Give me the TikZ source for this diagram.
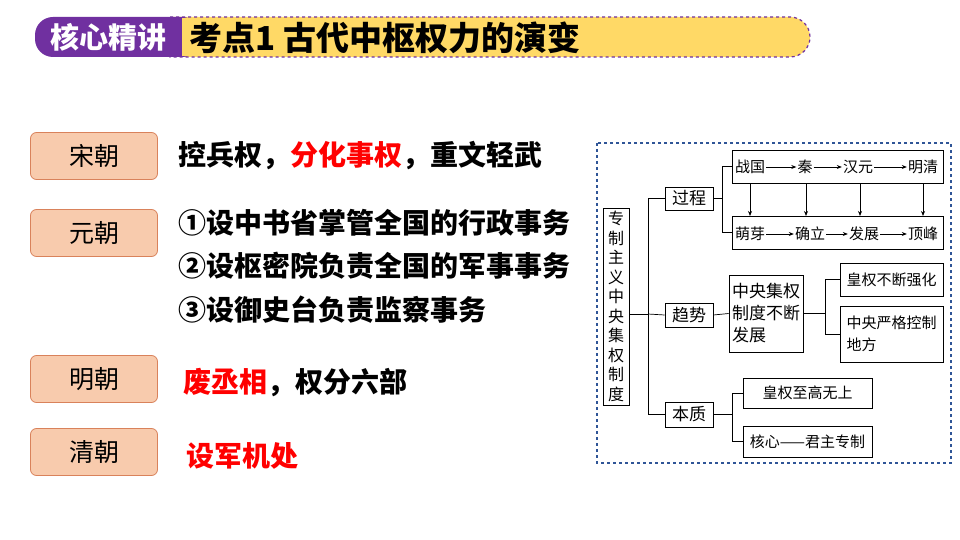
\documentclass[tikz,border=0pt]{standalone}
\usepackage{fontspec}
\setmainfont{Noto Sans CJK SC}
\usetikzlibrary{arrows.meta}
\definecolor{purp}{HTML}{7030A0}
\definecolor{yel}{HTML}{FFD966}
\definecolor{dyn}{HTML}{F8CBAD}
\definecolor{dynb}{HTML}{D9825B}
\definecolor{frame}{HTML}{2F5597}
\begin{document}
\begin{tikzpicture}[x=1pt,y=-1pt,
  dyna/.style={draw=dynb,fill=dyn,rounded corners=6pt,line width=0.8pt,minimum width=127pt,minimum height=47pt,font=\fontsize{25}{27}\selectfont},
  desc/.style={anchor=west,font=\fontsize{28}{30}\selectfont\bfseries},
  bx/.style={draw,line width=0.7pt,font=\fontsize{15}{18}\selectfont,inner sep=2pt},
  ln/.style={line width=0.7pt},
  ar/.style={line width=0.7pt,-{Stealth[length=5pt,width=4pt]}},
  wd/.style={font=\fontsize{15}{18}\selectfont,inner sep=1pt}]
\useasboundingbox (0,0) rectangle (960,540);
\fill[white] (0,0) rectangle (960,540);
% header
\draw[purp,dashed,line width=1.2pt,fill=yel] (170,17) [rounded corners=20pt] -- (810,17) -- (810,57) [sharp corners] -- (170,57) -- cycle;
\fill[purp,rounded corners=18pt] (35,17) rectangle (200,57);
\fill[purp] (160,17) rectangle (182,57);
\fill[yel] (182,18) rectangle (200,56);
\node[text=white,font=\fontsize{29}{30}\selectfont\bfseries] (hd) at (108,37) {核心精讲};
\node[anchor=west,font=\fontsize{33}{35}\selectfont\bfseries] (tt) at (186,38) {考点1\ 古代中枢权力的演变};
% left
\node[dyna] (song) at (94,156) {宋朝};
\node[dyna] (yuan) at (94,233) {元朝};
\node[dyna] (ming) at (94,379) {明朝};
\node[dyna] (qing) at (94,452) {清朝};
\node[desc] (t1) at (175,156) {控兵权，\textcolor{red}{分化事权}，重文轻武};
\node[desc] (t2) at (175,223) {①设中书省掌管全国的行政事务};
\node[desc] (t3) at (175,266) {②设枢密院负责全国的军事事务};
\node[desc] (t4) at (175,310) {③设御史台负责监察事务};
\node[desc] (t5) at (180,383) {\textcolor{red}{废丞相}，权分六部};
\node[desc] (t6) at (183,456) {\textcolor{red}{设军机处}};
% right frame
\draw[frame,dashed,line width=1.3pt] (597,143) rectangle (951,463);
\node[bx,minimum width=26pt,minimum height=197pt,align=center,font=\fontsize{16}{19.5}\selectfont] (root) at (616,306.5) {专\\制\\主\\义\\中\\央\\集\\权\\制\\度};
\node[bx,minimum width=48pt,minimum height=23pt,font=\fontsize{17}{19}\selectfont] (gc) at (689,198.5) {过程};
\node[bx,minimum width=48pt,minimum height=24pt,font=\fontsize{17}{19}\selectfont] (qs) at (689,315) {趋势};
\node[bx,minimum width=48pt,minimum height=25pt,font=\fontsize{17}{19}\selectfont] (bz) at (689,414.5) {本质};
\coordinate (tr) at (648,314);
\draw[ln] (root.east|-tr) -- (tr);
\draw[ln] (gc.west) -| (648,414.5) -- (bz.west);
\draw[ln] (tr) -- (qs.west);
% process
\node[draw,ln,minimum width=211pt,minimum height=33pt] (top) at (837.5,166.5) {};
\node[draw,ln,minimum width=211pt,minimum height=33pt] (bot) at (837.5,232.5) {};
\draw[ln] (gc.east) -- (722,198.5);
\draw[ln] (top.west) -| (722,232.5) -- (bot.west);
\node[wd] (a1) at (750,167) {战国}; \node[wd] (a2) at (805,167) {秦};
\node[wd] (a3) at (858,167) {汉元}; \node[wd] (a4) at (923,167) {明清};
\node[wd] (b1) at (750,234) {萌芽}; \node[wd] (b2) at (810,234) {确立};
\node[wd] (b3) at (864,234) {发展}; \node[wd] (b4) at (923,234) {顶峰};
\draw[ar] (a1) -- (a2); \draw[ar] (a2) -- (a3); \draw[ar] (a3) -- (a4);
\draw[ar] (b1) -- (b2); \draw[ar] (b2) -- (b3); \draw[ar] (b3) -- (b4);
\foreach \x in {750,806,860,923} \draw[ar] (\x,183) -- (\x,216);
% trend
\node[bx,minimum width=68pt,minimum height=77pt,align=left,inner sep=3pt,font=\fontsize{17}{22}\selectfont] (cj) at (766,313.5) {中央集权\\制度不断\\发展};
\draw[ln] (qs.east) -- (cj.west);
\node[bx,minimum width=103pt,minimum height=33pt] (hq) at (891.5,279.5) {皇权不断强化};
\node[bx,minimum width=103pt,minimum height=56pt,align=left,font=\fontsize{15}{22}\selectfont] (zy) at (891.5,334) {中央严格控制\\地方\hspace*{4em}};
\draw[ln] (cj.east) -- (825,313.5);
\draw[ln] (hq.west) -| (825,334) -- (zy.west);
% essence
\node[bx,minimum width=129pt,minimum height=30pt] (zg) at (807.5,393) {皇权至高无上};
\node[bx,minimum width=129pt,minimum height=31pt] (hx) at (807.5,441.5) {核心——君主专制};
\draw[ln] (bz.east) -- (732,414.5);
\draw[ln] (zg.west) -| (732,441.5) -- (hx.west);
\end{tikzpicture}
\end{document}
